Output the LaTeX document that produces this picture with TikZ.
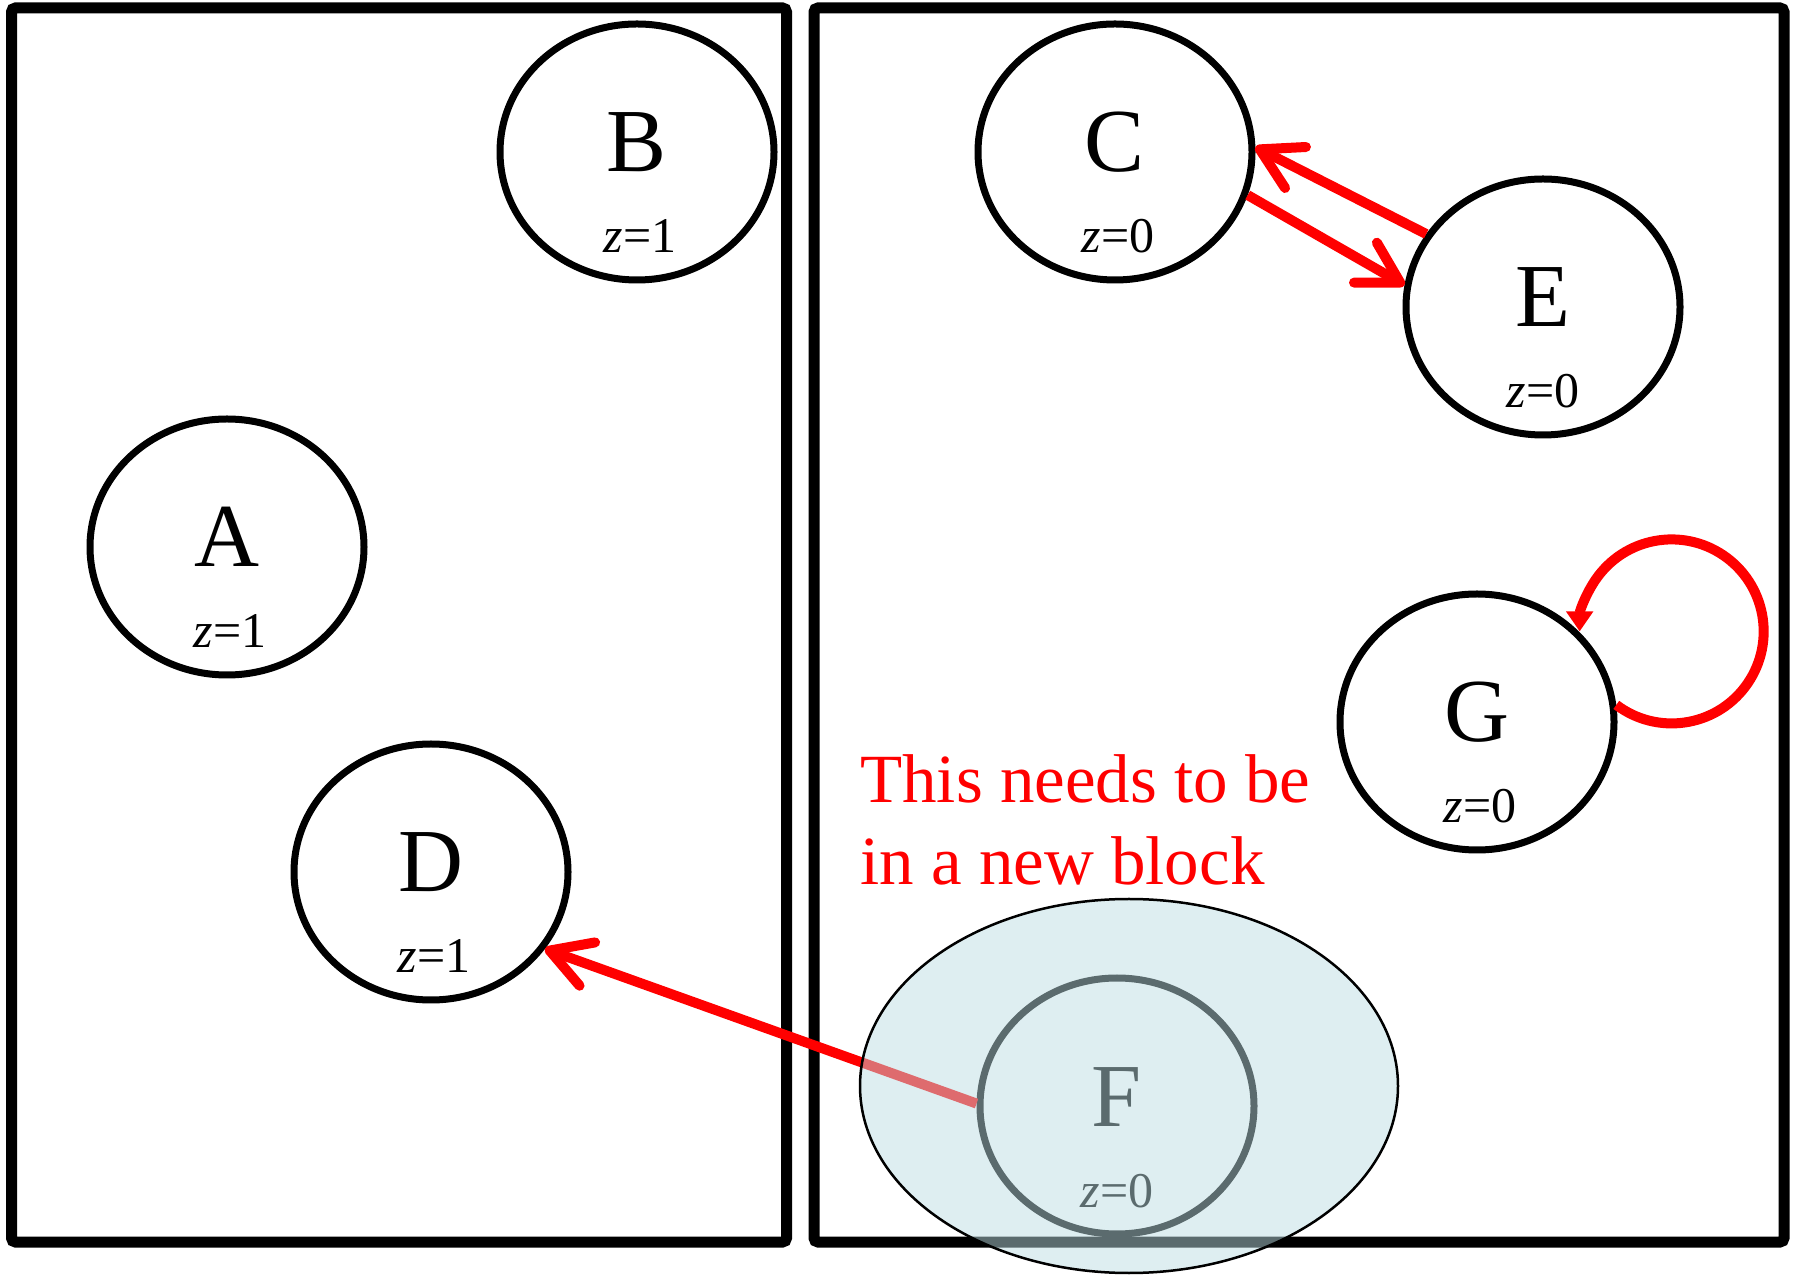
\documentclass[tikz,border=0pt]{standalone}
\usepackage{fontspec}
\setmainfont{Liberation Serif}
\usetikzlibrary{shapes.geometric,arrows.meta,calc}
\definecolor{blkfill}{RGB}{188,221,227}
\tikzset{
  state/.style={ellipse, draw=black, line width=7pt, minimum width=274pt, minimum height=256pt, inner sep=0pt},
  letter/.style={anchor=base, font=\fontsize{90}{90}\selectfont, inner sep=0pt},
  zlab/.style={anchor=base, font=\fontsize{50}{50}\selectfont, inner sep=0pt},
  redarrow/.style={draw=red, line width=10pt, -{Straight Barb[length=40pt,width=46pt,round]}},
  frame/.style={draw=black, line width=11pt, rounded corners=4pt},
  note/.style={anchor=base west, text=red, font=\fontsize{69}{69}\selectfont, inner sep=0pt},
}
\newcommand{\zl}[1]{{\itshape z}=#1}
\begin{document}
\begin{tikzpicture}[x=1pt,y=1pt]
\useasboundingbox (0,0) rectangle (1794,1275);
\fill[white] (0,0) rectangle (1794,1275);
% frames
\draw[frame] (11.5,33) rectangle (786.5,1267);
\draw[frame] (814,33) rectangle (1784,1267);
% states
\node[state] (B) at (637,1123) {};
\node[state] (A) at (227,728) {};
\node[state] (D) at (431,403) {};
\node[state] (C) at (1115,1123) {};
\node[state] (E) at (1543,968) {};
\node[state] (G) at (1477,553) {};
\node[state] (F) at (1117,169) {};
\foreach \n in {A,B,C,D,E,F,G}{
  \node[letter] (\n-name) at ($(\n)+(0,-20)$) {\n};
}
\node[zlab] (B-z) at ($(B)+(3,-101)$) {\zl{1}};
\node[zlab] (A-z) at ($(A)+(3,-101)$) {\zl{1}};
\node[zlab] (D-z) at ($(D)+(3,-101)$) {\zl{1}};
\node[zlab] (C-z) at ($(C)+(3,-101)$) {\zl{0}};
\node[zlab] (E-z) at ($(E)+(0,-101)$) {\zl{0}};
\node[zlab] (G-z) at ($(G)+(3,-101)$) {\zl{0}};
\node[zlab] (F-z) at ($(F)+(0,-101)$) {\zl{0}};
% arrows
\draw[redarrow] (C.-18) -- (E.171);
\draw[redarrow] (E.148) -- (C.2);
\draw[redarrow] (F.179) -- (D.-34);
\draw[red, line width=10pt, -{Triangle[length=20pt,width=26pt]}] (G.7) arc[start angle=-127, end angle=180, radius=92];
% note
\node[note] (note1) at (860,472) {This needs to be};
\node[note] (note2) at (860,390) {in a new block};
% new block overlay
\node[ellipse, draw=black, line width=2.5pt, fill=blkfill, fill opacity=0.485, draw opacity=1, minimum width=538pt, minimum height=374pt, inner sep=0pt] (blk) at (1129,189) {};
\end{tikzpicture}
\end{document}
